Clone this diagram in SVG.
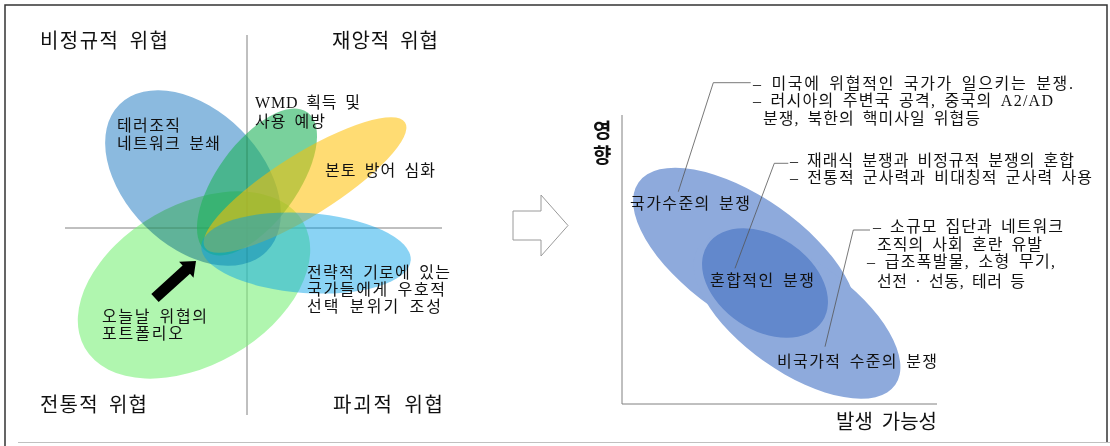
<svg xmlns="http://www.w3.org/2000/svg" width="1110" height="446" viewBox="0 0 1110 446">
<style>
text{font-family:"Liberation Serif","Noto Sans CJK KR",serif;fill:#111}
.q{font-size:20px;word-spacing:4px}
.t{font-size:16px;word-spacing:3px}
.b{font-size:20px;font-weight:bold}
.ax{stroke:#808080;stroke-width:1;fill:none}
.ld{stroke:#555;stroke-width:0.8;fill:none}
.mul{mix-blend-mode:multiply}
</style>
<rect x="0" y="0" width="1110" height="446" fill="#fff"/>
<g id="frame">
<path d="M5,446 V5 H1107 V442" fill="none" stroke="#333" stroke-width="1.5"/>
<line x1="18" y1="442.5" x2="1110" y2="442.5" stroke="#c0c0c0" stroke-width="1.2"/>
</g>
<g id="left-axes">
<line class="ax" x1="247" y1="35" x2="247" y2="415"/>
<line class="ax" x1="65" y1="228" x2="442" y2="228"/>
</g>
<g id="quadrant-labels">
<text class="q" x="40" y="48" textLength="128" lengthAdjust="spacing">비정규적 위협</text>
<text class="q" x="332" y="48" textLength="106" lengthAdjust="spacing">재앙적 위협</text>
<text class="q" x="40" y="412" textLength="107" lengthAdjust="spacing">전통적 위협</text>
<text class="q" x="333" y="412" textLength="110" lengthAdjust="spacing">파괴적 위협</text>
</g>
<g id="ellipses-left">
<ellipse id="e-portfolio" cx="194" cy="285" rx="126" ry="80" transform="rotate(-30 194 285)" fill="#7cf07a" fill-opacity="0.6"/>
<ellipse id="e-terror" class="mul" cx="193" cy="178" rx="104" ry="68" transform="rotate(45 193 178)" fill="#4891cd" fill-opacity="0.63"/>
<ellipse id="e-wmd" cx="257" cy="182" rx="86" ry="40" transform="rotate(-54 257 182)" fill="#1fb35a" fill-opacity="0.6"/>
<ellipse id="e-homeland" cx="305" cy="185" rx="118" ry="31" transform="rotate(-32 305 185)" fill="#ffc000" fill-opacity="0.55"/>
<ellipse id="e-strategic" cx="306" cy="253" rx="105" ry="40" transform="rotate(4 306 253)" fill="#00a0e6" fill-opacity="0.46"/>
</g>
<g id="node-portfolio">
<text class="t" x="102" y="322" textLength="105" lengthAdjust="spacing">오늘날 위협의</text>
<text class="t" x="102" y="339" textLength="81" lengthAdjust="spacing">포트폴리오</text>
</g>
<g id="node-terror">
<text class="t" x="117" y="131" textLength="63" lengthAdjust="spacing">테러조직</text>
<text class="t" x="117" y="149" textLength="103" lengthAdjust="spacing">네트워크 분쇄</text>
</g>
<g id="node-wmd">
<text class="t" x="255" y="108" textLength="105" lengthAdjust="spacing">WMD 획득 및</text>
<text class="t" x="255" y="127" textLength="70" lengthAdjust="spacing">사용 예방</text>
</g>
<g id="node-homeland">
<text class="t" x="325" y="176" textLength="110" lengthAdjust="spacing">본토 방어 심화</text>
</g>
<g id="node-strategic">
<text class="t" x="307" y="278" textLength="143" lengthAdjust="spacing">전략적 기로에 있는</text>
<text class="t" x="307" y="295" textLength="138" lengthAdjust="spacing">국가들에게 우호적</text>
<text class="t" x="307" y="312" textLength="134" lengthAdjust="spacing">선택 분위기 조성</text>
</g>
<g id="black-arrow">
<polygon points="158.7,302.1 151.3,293.9 182.6,265.6 179.1,261.7 196,261 193.5,277.7 190,273.8" fill="#000"/>
</g>
<g id="transition-arrow">
<polygon points="513,211 541,211 541,195 568,225.5 541,256 541,240 513,240" fill="#fff" stroke="#9a9a9a" stroke-width="1"/>
</g>
<g id="right-axes">
<line class="ax" x1="622" y1="115" x2="622" y2="404"/>
<line class="ax" x1="622" y1="404" x2="937" y2="404"/>
<text class="b" x="593" y="138">영</text>
<text class="b" x="593" y="163">향</text>
<text class="q" x="937" y="429" text-anchor="end">발생 가능성</text>
</g>
<g id="node-state">
<ellipse cx="745" cy="257" rx="130" ry="60" transform="rotate(35 745 257)" fill="#8eaadc"/>
</g>
<g id="node-nonstate">
<ellipse cx="797" cy="316" rx="120" ry="56" transform="rotate(35 797 316)" fill="#8eaadc"/>
</g>
<g id="node-hybrid">
<ellipse cx="765" cy="283" rx="69" ry="47" transform="rotate(34 765 283)" fill="#6288cc"/>
</g>
<g id="connectors">
<polyline class="ld" points="678.3,191.7 713.3,82.7 750.7,82.7"/>
<polyline class="ld" points="735,268.3 774.3,163.3 788.3,163.3"/>
<polyline class="ld" points="825,346.7 853.3,230 870,230"/>
</g>
<g id="labels-right">
<text class="t" x="630" y="209" textLength="120" lengthAdjust="spacing">국가수준의 분쟁</text>
<text class="t" x="710" y="286" textLength="104" lengthAdjust="spacing">혼합적인 분쟁</text>
<text class="t" x="777" y="367" textLength="160" lengthAdjust="spacing">비국가적 수준의 분쟁</text>
<text class="t" x="753" y="89" textLength="320" lengthAdjust="spacing">– 미국에 위협적인 국가가 일으키는 분쟁.</text>
<text class="t" x="753" y="106" textLength="300" lengthAdjust="spacing">– 러시아의 주변국 공격, 중국의 A2/AD</text>
<text class="t" x="763" y="124" textLength="217" lengthAdjust="spacing">분쟁, 북한의 핵미사일 위협등</text>
<text class="t" x="790" y="166" textLength="284" lengthAdjust="spacing">– 재래식 분쟁과 비정규적 분쟁의 혼합</text>
<text class="t" x="790" y="183" textLength="302" lengthAdjust="spacing">– 전통적 군사력과 비대칭적 군사력 사용</text>
<text class="t" x="873" y="232" textLength="190" lengthAdjust="spacing">– 소규모 집단과 네트워크</text>
<text class="t" x="877" y="250" textLength="165" lengthAdjust="spacing">조직의 사회 혼란 유발</text>
<text class="t" x="867" y="267" textLength="188" lengthAdjust="spacing">– 급조폭발물, 소형 무기,</text>
<text class="t" x="877" y="287" textLength="148" lengthAdjust="spacing">선전 · 선동, 테러 등</text>
</g>
</svg>
